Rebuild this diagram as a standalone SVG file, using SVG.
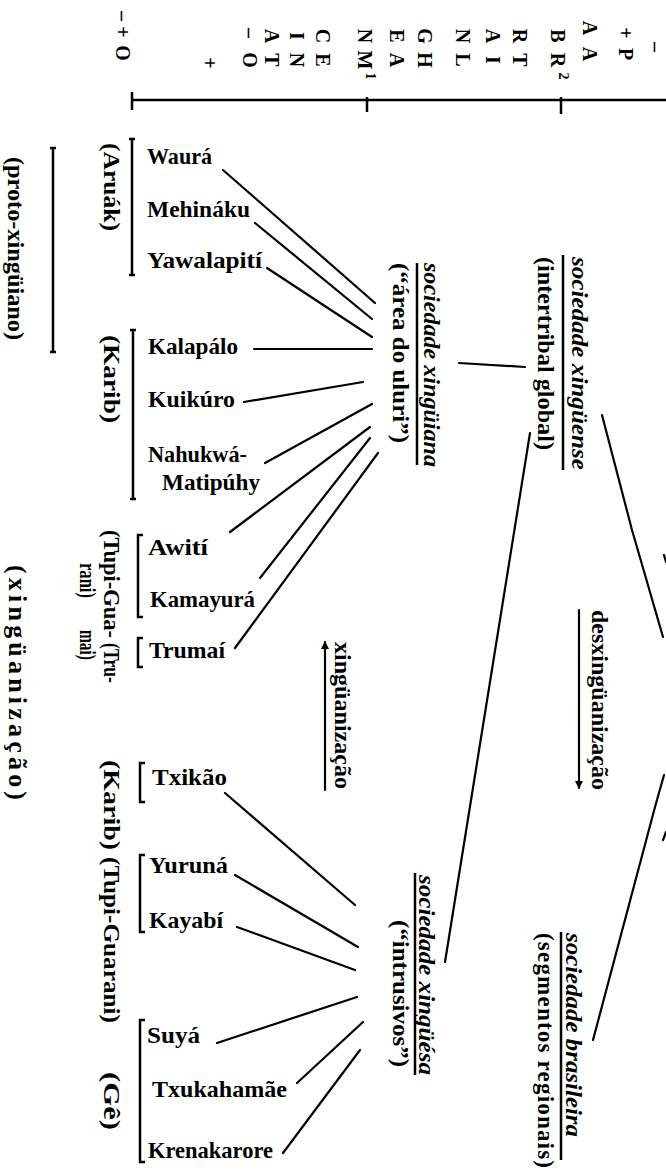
<svg xmlns="http://www.w3.org/2000/svg" width="666" height="1175" viewBox="0 0 666 1175">
<style>
.n{font-family:"Liberation Serif",serif;font-weight:bold;font-size:23px;fill:#000}
.r{font-family:"Liberation Serif",serif;font-weight:bold;font-size:23px;fill:#000}
.i{font-family:"Liberation Serif",serif;font-weight:bold;font-style:italic;font-size:24px;fill:#000}
.h{font-family:"Liberation Serif",serif;font-weight:bold;font-size:20px;fill:#000}
.ln{stroke:#000;stroke-width:2.2;fill:none;stroke-linecap:round}
.br{stroke:#000;stroke-width:2.5;fill:none}
</style>
<defs>
<marker id="ah" markerWidth="8" markerHeight="10" refX="7" refY="5" orient="auto" markerUnits="userSpaceOnUse"><path d="M0,1 L8,5 L0,9 Z" fill="#000"/></marker>
</defs>
<rect width="666" height="1175" fill="#fff"/>
<g id="axis">
<path class="br" d="M132,100 H666 M132,92 V110 M367,97 V112 M561,97 V114"/>
<g class="h" text-anchor="middle" dominant-baseline="central">
<text transform="translate(123,16) rotate(90)">–</text>
<text transform="translate(123,32) rotate(90)">+</text>
<text transform="translate(123,53) rotate(90)">O</text>
<text transform="translate(210,63) rotate(90)">+</text>
<text transform="translate(250,33) rotate(90)">–</text>
<text transform="translate(250,60) rotate(90)">O</text>
<text transform="translate(272,36) rotate(90)">A</text>
<text transform="translate(272,60) rotate(90)">T</text>
<text transform="translate(297,36) rotate(90)">I</text>
<text transform="translate(297,60) rotate(90)">N</text>
<text transform="translate(323,36) rotate(90)">C</text>
<text transform="translate(323,60) rotate(90)">E</text>
<text transform="translate(365,36) rotate(90)">N</text>
<text transform="translate(365,60) rotate(90)">M</text>
<text transform="translate(370,76) rotate(90)" style="font-size:14px">1</text>
<text transform="translate(397,36) rotate(90)">E</text>
<text transform="translate(397,60) rotate(90)">A</text>
<text transform="translate(425,36) rotate(90)">G</text>
<text transform="translate(425,60) rotate(90)">H</text>
<text transform="translate(463,36) rotate(90)">N</text>
<text transform="translate(463,60) rotate(90)">L</text>
<text transform="translate(493,36) rotate(90)">A</text>
<text transform="translate(493,60) rotate(90)">I</text>
<text transform="translate(520,36) rotate(90)">R</text>
<text transform="translate(520,60) rotate(90)">T</text>
<text transform="translate(558,36) rotate(90)">B</text>
<text transform="translate(558,60) rotate(90)">R</text>
<text transform="translate(563,76) rotate(90)" style="font-size:14px">2</text>
<text transform="translate(590,28) rotate(90)">A</text>
<text transform="translate(590,54) rotate(90)">A</text>
<text transform="translate(626,33) rotate(90)">+</text>
<text transform="translate(626,54) rotate(90)">P</text>
<text transform="translate(656,47) rotate(90)">–</text>
</g>
</g>
<g id="brackets">
<path class="br" d="M129,139 H135 M132,139 V275 M129,275 H135"/>
<path class="br" d="M130,330 H136 M133,330 V499 M130,499 H136"/>
<path class="br" d="M143,535 H138 V617 H143"/>
<path class="br" d="M143,638 H138 V667 H143"/>
<path class="br" d="M145,763 H140 V802 H145"/>
<path class="br" d="M145,855 H140 V932 H145"/>
<path class="br" d="M145,1020 H140 V1162 H145"/>
<path class="br" d="M50,148 H56 M53,148 V352 M50,352 H56"/>
</g>
<g id="group-labels" class="r">
<text transform="translate(104,143) rotate(90)" textLength="88" lengthAdjust="spacingAndGlyphs">(Aruák)</text>
<text transform="translate(104,335) rotate(90)" textLength="88" lengthAdjust="spacingAndGlyphs">(Karib)</text>
<text transform="translate(104,530) rotate(90)" textLength="108" lengthAdjust="spacingAndGlyphs">(Tupi-Gua-</text>
<text transform="translate(104,643) rotate(90)" textLength="40" lengthAdjust="spacingAndGlyphs">(Tru-</text>
<text transform="translate(80,563) rotate(90)" textLength="35" lengthAdjust="spacingAndGlyphs">rani)</text>
<text transform="translate(80,630) rotate(90)" textLength="30" lengthAdjust="spacingAndGlyphs">mai)</text>
<text transform="translate(104,760) rotate(90)" textLength="90" lengthAdjust="spacingAndGlyphs">(Karib)</text>
<text transform="translate(104,857) rotate(90)" textLength="166" lengthAdjust="spacingAndGlyphs">(Tupi-Guarani)</text>
<text transform="translate(104,1072) rotate(90)" textLength="58" lengthAdjust="spacingAndGlyphs">(Gê)</text>
<text transform="translate(8,157) rotate(90)" textLength="183" lengthAdjust="spacingAndGlyphs">(proto-xingüiano)</text>
<text transform="translate(9,565) rotate(90)" style="font-size:26px" textLength="235" lengthAdjust="spacing">(xingüanização)</text>
</g>
<g id="tribes" class="n">
<text x="147" y="164" textLength="65" lengthAdjust="spacingAndGlyphs">Waurá</text>
<text x="147" y="217" textLength="103" lengthAdjust="spacingAndGlyphs">Mehináku</text>
<text x="147" y="268" textLength="115" lengthAdjust="spacingAndGlyphs">Yawalapití</text>
<text x="148" y="354" textLength="90" lengthAdjust="spacingAndGlyphs">Kalapálo</text>
<text x="148" y="407" textLength="87" lengthAdjust="spacingAndGlyphs">Kuikúro</text>
<text x="148" y="462" textLength="99" lengthAdjust="spacingAndGlyphs">Nahukwá-</text>
<text x="162" y="490" textLength="98" lengthAdjust="spacingAndGlyphs">Matipúhy</text>
<text x="148" y="555" textLength="60" lengthAdjust="spacingAndGlyphs">Awití</text>
<text x="150" y="607" textLength="105" lengthAdjust="spacingAndGlyphs">Kamayurá</text>
<text x="149" y="658" textLength="76" lengthAdjust="spacingAndGlyphs">Trumaí</text>
<text x="152" y="785" textLength="75" lengthAdjust="spacingAndGlyphs">Txikão</text>
<text x="149" y="873" textLength="79" lengthAdjust="spacingAndGlyphs">Yuruná</text>
<text x="149" y="928" textLength="74" lengthAdjust="spacingAndGlyphs">Kayabí</text>
<text x="147" y="1043" textLength="53" lengthAdjust="spacingAndGlyphs">Suyá</text>
<text x="152" y="1097" textLength="135" lengthAdjust="spacingAndGlyphs">Txukahamãe</text>
<text x="148" y="1158" textLength="125" lengthAdjust="spacingAndGlyphs">Krenakarore</text>
</g>
<g id="soc-xinguiana">
<line class="br" x1="417" y1="263" x2="417" y2="465"/>
<text class="i" transform="translate(424,263) rotate(90)" textLength="204" lengthAdjust="spacingAndGlyphs">sociedade xingüiana</text>
<text class="r" transform="translate(393,263) rotate(90)" textLength="180" lengthAdjust="spacingAndGlyphs">(“área do uluri”)</text>
</g>
<g id="soc-xinguense">
<line class="br" x1="563" y1="255" x2="563" y2="470"/>
<text class="i" transform="translate(572,257) rotate(90)" textLength="213" lengthAdjust="spacingAndGlyphs">sociedade xingüense</text>
<text class="r" transform="translate(538,257) rotate(90)" textLength="193" lengthAdjust="spacingAndGlyphs">(intertribal global)</text>
</g>
<g id="soc-xinguesa">
<line class="br" x1="415" y1="873" x2="415" y2="1075"/>
<text class="i" transform="translate(419,875) rotate(90)" textLength="200" lengthAdjust="spacingAndGlyphs">sociedade xingüésa</text>
<text class="r" transform="translate(393,920) rotate(90)" textLength="147" lengthAdjust="spacingAndGlyphs">(“intrusivos”)</text>
</g>
<g id="soc-brasileira">
<line class="br" x1="561" y1="932" x2="561" y2="1160"/>
<text class="i" transform="translate(566,933) rotate(90)" textLength="204" lengthAdjust="spacingAndGlyphs">sociedade brasileira</text>
<text class="r" transform="translate(538,933) rotate(90)" textLength="235" lengthAdjust="spacing">(segmentos  regionais)</text>
</g>
<g id="processes" class="r">
<text transform="translate(335,642) rotate(90)" textLength="147" lengthAdjust="spacingAndGlyphs">xingüanização</text>
<text transform="translate(592,610) rotate(90)" textLength="180" lengthAdjust="spacingAndGlyphs">desxingüanização</text>
</g>
<g id="connectors" class="ln">
<line x1="325" y1="790" x2="325" y2="642" marker-end="url(#ah)"/>
<line x1="579" y1="610" x2="579" y2="788" marker-end="url(#ah)"/>
<line x1="223" y1="170" x2="375" y2="303"/>
<line x1="255" y1="223" x2="372" y2="319"/>
<line x1="267" y1="268" x2="372" y2="337"/>
<line x1="254" y1="349" x2="372" y2="349"/>
<line x1="244" y1="402" x2="363" y2="382"/>
<line x1="265" y1="463" x2="372" y2="404"/>
<line x1="230" y1="532" x2="370" y2="427"/>
<line x1="260" y1="578" x2="370" y2="438"/>
<line x1="235" y1="648" x2="378" y2="453"/>
<line x1="459" y1="363" x2="525" y2="367"/>
<line x1="530" y1="433" x2="445" y2="962"/>
<polyline points="602,415 632,530 663,637"/>
<line x1="664" y1="555" x2="666" y2="562"/>
<polyline points="664,775 655,807 593,1040"/>
<line x1="663" y1="840" x2="666" y2="832"/>
<line x1="225" y1="793" x2="355" y2="905"/>
<line x1="235" y1="875" x2="358" y2="947"/>
<line x1="237" y1="927" x2="355" y2="970"/>
<line x1="217" y1="1043" x2="357" y2="997"/>
<line x1="297" y1="1083" x2="363" y2="1022"/>
<line x1="283" y1="1153" x2="360" y2="1050"/>
</g>
</svg>
